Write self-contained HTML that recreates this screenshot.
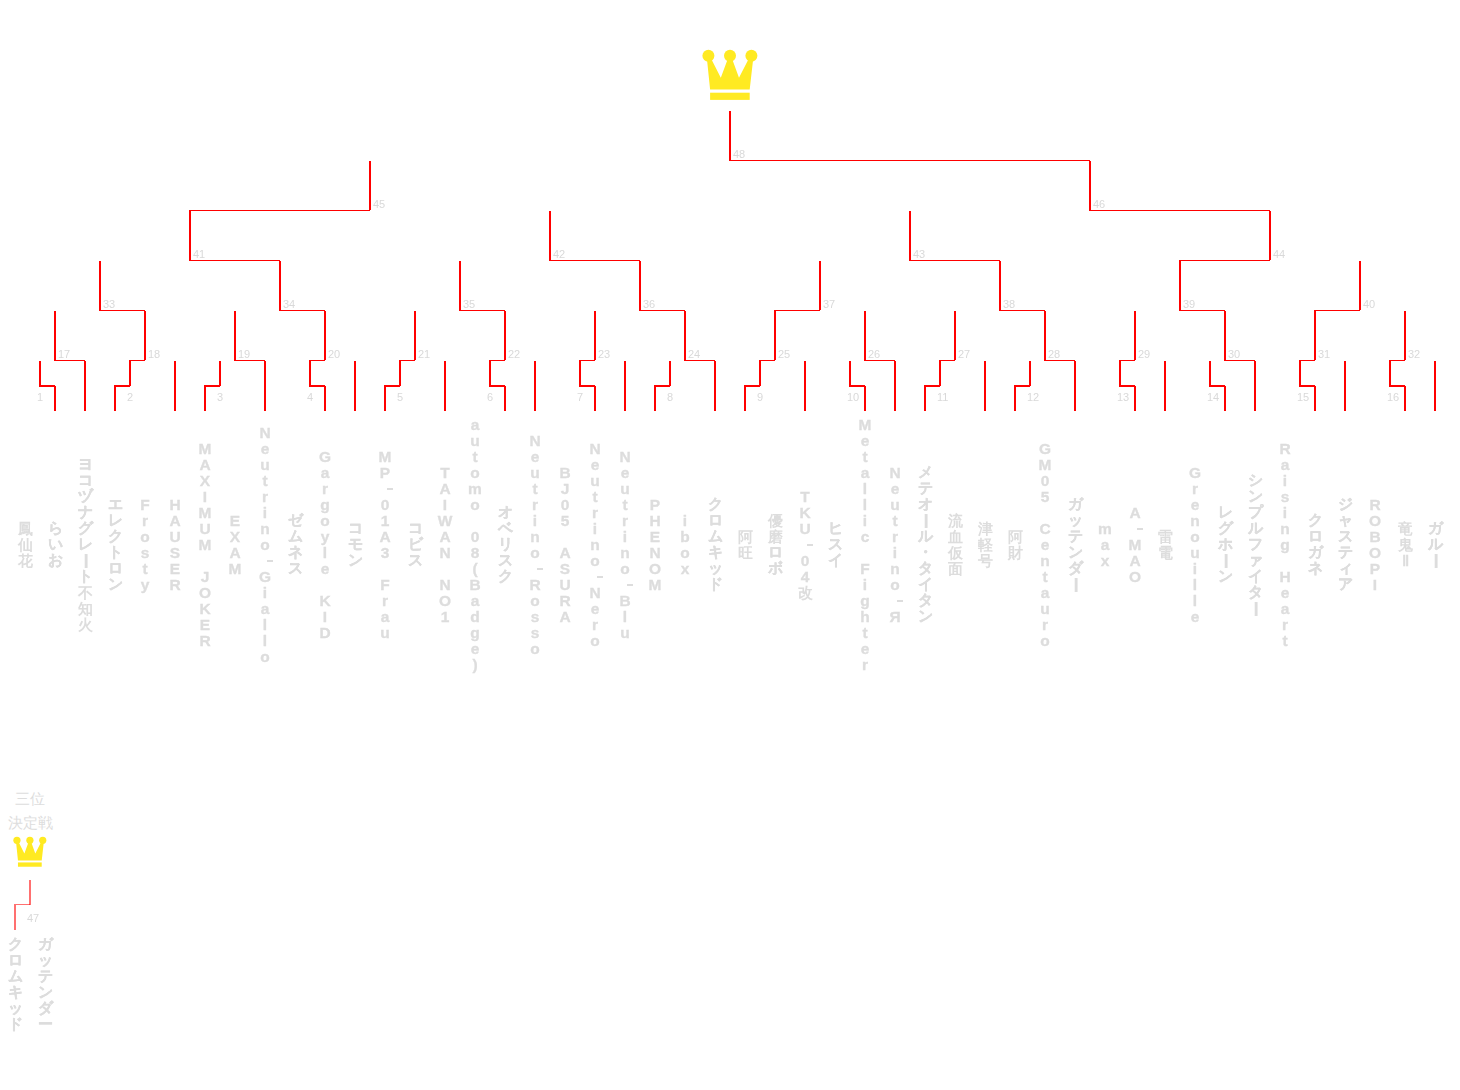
<!DOCTYPE html>
<html><head><meta charset="utf-8"><title>Tournament</title>
<style>
html,body{margin:0;padding:0;background:#fff;}
body{width:1460px;height:1090px;position:relative;overflow:hidden;font-family:"Liberation Sans",sans-serif;}
.lines{position:absolute;left:0;top:0;}
.lb{position:absolute;will-change:transform;font-size:11px;line-height:13px;color:#d9d9d9;white-space:nowrap;}
.nm{position:absolute;width:24px;text-align:center;font-size:15.5px;line-height:16px;font-weight:bold;will-change:transform;color:#dddddd;}
.nm i{display:block;font-style:normal;height:16px;-webkit-text-stroke:0.35px #dddddd;}
.nm i.rot{transform:rotate(90deg);}
.nm i.hy{position:relative;}
.nm i.hy:after{content:'';position:absolute;left:14px;top:6.5px;width:6px;height:2px;background:#dddddd;}
.nm i.j{-webkit-text-stroke:0.3px #dddddd;font-size:15px;}
.nm i.k{-webkit-text-stroke:0;font-size:15px;}
.nm i.j{position:relative;top:-1px;}
.tp i.j{top:0;}
.t3{position:absolute;left:0;width:60px;text-align:center;font-size:15px;line-height:24px;color:#dddddd;}
</style></head><body>
<svg class="lines" width="1460" height="1090" viewBox="0 0 1460 1090">
<g fill="#ffea22">
<path d="M707.1,60.5 L710.1,89.5 L749.7,89.5 L753.0,60.5 L748.1,60.0 L739.0,77.8 L732.7,60.5 L727.2,60.5 L720.8,77.8 L711.8,60.0 Z"/>
<circle cx="708.4" cy="55.8" r="6.0"/>
<circle cx="730.0" cy="55.8" r="6.0"/>
<circle cx="751.4" cy="55.8" r="6.0"/>
<rect x="710.1" y="92.7" width="39.6" height="7.2"/>
<path d="M16.16,843.1 L17.96,860.5 L41.72,860.5 L43.7,843.1 L40.76,842.8 L35.3,853.48 L31.52,843.1 L28.22,843.1 L24.38,853.48 L18.98,842.8 Z"/>
<circle cx="16.94" cy="840.28" r="3.6"/>
<circle cx="29.9" cy="840.28" r="3.6"/>
<circle cx="42.74" cy="840.28" r="3.6"/>
<rect x="17.96" y="862.42" width="23.76" height="4.32"/>
</g>
<g fill="#ff0000" shape-rendering="crispEdges">
<rect x="54" y="386" width="2" height="25"/>
<rect x="39" y="385" width="16" height="2"/>
<rect x="39" y="361" width="2" height="25"/>
<rect x="114" y="386" width="2" height="25"/>
<rect x="114" y="385" width="16" height="2"/>
<rect x="129" y="361" width="2" height="25"/>
<rect x="204" y="386" width="2" height="25"/>
<rect x="204" y="385" width="16" height="2"/>
<rect x="219" y="361" width="2" height="25"/>
<rect x="324" y="386" width="2" height="25"/>
<rect x="309" y="385" width="16" height="2"/>
<rect x="309" y="361" width="2" height="25"/>
<rect x="384" y="386" width="2" height="25"/>
<rect x="384" y="385" width="16" height="2"/>
<rect x="399" y="361" width="2" height="25"/>
<rect x="504" y="386" width="2" height="25"/>
<rect x="489" y="385" width="16" height="2"/>
<rect x="489" y="361" width="2" height="25"/>
<rect x="594" y="386" width="2" height="25"/>
<rect x="579" y="385" width="16" height="2"/>
<rect x="579" y="361" width="2" height="25"/>
<rect x="654" y="386" width="2" height="25"/>
<rect x="654" y="385" width="16" height="2"/>
<rect x="669" y="361" width="2" height="25"/>
<rect x="744" y="386" width="2" height="25"/>
<rect x="744" y="385" width="16" height="2"/>
<rect x="759" y="361" width="2" height="25"/>
<rect x="864" y="386" width="2" height="25"/>
<rect x="849" y="385" width="16" height="2"/>
<rect x="849" y="361" width="2" height="25"/>
<rect x="924" y="386" width="2" height="25"/>
<rect x="924" y="385" width="16" height="2"/>
<rect x="939" y="361" width="2" height="25"/>
<rect x="1014" y="386" width="2" height="25"/>
<rect x="1014" y="385" width="16" height="2"/>
<rect x="1029" y="361" width="2" height="25"/>
<rect x="1134" y="386" width="2" height="25"/>
<rect x="1119" y="385" width="16" height="2"/>
<rect x="1119" y="361" width="2" height="25"/>
<rect x="1224" y="386" width="2" height="25"/>
<rect x="1209" y="385" width="16" height="2"/>
<rect x="1209" y="361" width="2" height="25"/>
<rect x="1314" y="386" width="2" height="25"/>
<rect x="1299" y="385" width="16" height="2"/>
<rect x="1299" y="361" width="2" height="25"/>
<rect x="1404" y="386" width="2" height="25"/>
<rect x="1389" y="385" width="16" height="2"/>
<rect x="1389" y="361" width="2" height="25"/>
<rect x="84" y="361" width="2" height="50"/>
<rect x="174" y="361" width="2" height="50"/>
<rect x="264" y="361" width="2" height="50"/>
<rect x="354" y="361" width="2" height="50"/>
<rect x="444" y="361" width="2" height="50"/>
<rect x="534" y="361" width="2" height="50"/>
<rect x="624" y="361" width="2" height="50"/>
<rect x="714" y="361" width="2" height="50"/>
<rect x="804" y="361" width="2" height="50"/>
<rect x="894" y="361" width="2" height="50"/>
<rect x="984" y="361" width="2" height="50"/>
<rect x="1074" y="361" width="2" height="50"/>
<rect x="1164" y="361" width="2" height="50"/>
<rect x="1254" y="361" width="2" height="50"/>
<rect x="1344" y="361" width="2" height="50"/>
<rect x="1434" y="361" width="2" height="50"/>
<rect x="54" y="360" width="31" height="1"/>
<rect x="54" y="311" width="2" height="49"/>
<rect x="129" y="360" width="16" height="1"/>
<rect x="144" y="311" width="2" height="49"/>
<rect x="234" y="360" width="31" height="1"/>
<rect x="234" y="311" width="2" height="49"/>
<rect x="309" y="360" width="16" height="1"/>
<rect x="324" y="311" width="2" height="49"/>
<rect x="399" y="360" width="16" height="1"/>
<rect x="414" y="311" width="2" height="49"/>
<rect x="489" y="360" width="16" height="1"/>
<rect x="504" y="311" width="2" height="49"/>
<rect x="579" y="360" width="16" height="1"/>
<rect x="594" y="311" width="2" height="49"/>
<rect x="684" y="360" width="31" height="1"/>
<rect x="684" y="311" width="2" height="49"/>
<rect x="759" y="360" width="16" height="1"/>
<rect x="774" y="311" width="2" height="49"/>
<rect x="864" y="360" width="31" height="1"/>
<rect x="864" y="311" width="2" height="49"/>
<rect x="939" y="360" width="16" height="1"/>
<rect x="954" y="311" width="2" height="49"/>
<rect x="1044" y="360" width="31" height="1"/>
<rect x="1044" y="311" width="2" height="49"/>
<rect x="1119" y="360" width="16" height="1"/>
<rect x="1134" y="311" width="2" height="49"/>
<rect x="1224" y="360" width="31" height="1"/>
<rect x="1224" y="311" width="2" height="49"/>
<rect x="1299" y="360" width="16" height="1"/>
<rect x="1314" y="311" width="2" height="49"/>
<rect x="1389" y="360" width="16" height="1"/>
<rect x="1404" y="311" width="2" height="49"/>
<rect x="99" y="310" width="46" height="1"/>
<rect x="99" y="261" width="2" height="49"/>
<rect x="279" y="310" width="46" height="1"/>
<rect x="279" y="261" width="2" height="49"/>
<rect x="459" y="310" width="46" height="1"/>
<rect x="459" y="261" width="2" height="49"/>
<rect x="639" y="310" width="46" height="1"/>
<rect x="639" y="261" width="2" height="49"/>
<rect x="774" y="310" width="46" height="1"/>
<rect x="819" y="261" width="2" height="49"/>
<rect x="999" y="310" width="46" height="1"/>
<rect x="999" y="261" width="2" height="49"/>
<rect x="1179" y="310" width="46" height="1"/>
<rect x="1179" y="261" width="2" height="49"/>
<rect x="1314" y="310" width="46" height="1"/>
<rect x="1359" y="261" width="2" height="49"/>
<rect x="189" y="260" width="91" height="1"/>
<rect x="189" y="211" width="2" height="49"/>
<rect x="549" y="260" width="91" height="1"/>
<rect x="549" y="211" width="2" height="49"/>
<rect x="909" y="260" width="91" height="1"/>
<rect x="909" y="211" width="2" height="49"/>
<rect x="1179" y="260" width="91" height="1"/>
<rect x="1269" y="211" width="2" height="49"/>
<rect x="189" y="210" width="181" height="1"/>
<rect x="369" y="161" width="2" height="49"/>
<rect x="1089" y="210" width="181" height="1"/>
<rect x="1089" y="161" width="2" height="49"/>
<rect x="729" y="160" width="361" height="1"/>
<rect x="729" y="111" width="2" height="49"/>
</g>
<g fill="#ff0000" fill-opacity="0.56" shape-rendering="crispEdges">
<rect x="14" y="905" width="2" height="25"/>
<rect x="14" y="904" width="16" height="1"/>
<rect x="29" y="880" width="2" height="25"/>
</g>
</svg>
<div class="lb" style="left:37px;top:391px">1</div>
<div class="lb" style="left:127px;top:391px">2</div>
<div class="lb" style="left:217px;top:391px">3</div>
<div class="lb" style="left:307px;top:391px">4</div>
<div class="lb" style="left:397px;top:391px">5</div>
<div class="lb" style="left:487px;top:391px">6</div>
<div class="lb" style="left:577px;top:391px">7</div>
<div class="lb" style="left:667px;top:391px">8</div>
<div class="lb" style="left:757px;top:391px">9</div>
<div class="lb" style="left:847px;top:391px">10</div>
<div class="lb" style="left:937px;top:391px">11</div>
<div class="lb" style="left:1027px;top:391px">12</div>
<div class="lb" style="left:1117px;top:391px">13</div>
<div class="lb" style="left:1207px;top:391px">14</div>
<div class="lb" style="left:1297px;top:391px">15</div>
<div class="lb" style="left:1387px;top:391px">16</div>
<div class="lb" style="left:58px;top:348px">17</div>
<div class="lb" style="left:148px;top:348px">18</div>
<div class="lb" style="left:238px;top:348px">19</div>
<div class="lb" style="left:328px;top:348px">20</div>
<div class="lb" style="left:418px;top:348px">21</div>
<div class="lb" style="left:508px;top:348px">22</div>
<div class="lb" style="left:598px;top:348px">23</div>
<div class="lb" style="left:688px;top:348px">24</div>
<div class="lb" style="left:778px;top:348px">25</div>
<div class="lb" style="left:868px;top:348px">26</div>
<div class="lb" style="left:958px;top:348px">27</div>
<div class="lb" style="left:1048px;top:348px">28</div>
<div class="lb" style="left:1138px;top:348px">29</div>
<div class="lb" style="left:1228px;top:348px">30</div>
<div class="lb" style="left:1318px;top:348px">31</div>
<div class="lb" style="left:1408px;top:348px">32</div>
<div class="lb" style="left:103px;top:298px">33</div>
<div class="lb" style="left:283px;top:298px">34</div>
<div class="lb" style="left:463px;top:298px">35</div>
<div class="lb" style="left:643px;top:298px">36</div>
<div class="lb" style="left:823px;top:298px">37</div>
<div class="lb" style="left:1003px;top:298px">38</div>
<div class="lb" style="left:1183px;top:298px">39</div>
<div class="lb" style="left:1363px;top:298px">40</div>
<div class="lb" style="left:193px;top:248px">41</div>
<div class="lb" style="left:553px;top:248px">42</div>
<div class="lb" style="left:913px;top:248px">43</div>
<div class="lb" style="left:1273px;top:248px">44</div>
<div class="lb" style="left:373px;top:198px">45</div>
<div class="lb" style="left:1093px;top:198px">46</div>
<div class="lb" style="left:733px;top:148px">48</div>
<div class="lb" style="left:27px;top:912px">47</div>
<div class="t3" style="top:787px">三位<br>決定戦</div>
<div class="nm" style="left:13px;top:520.5px"><i class="k">鳳</i><i class="k">仙</i><i class="k">花</i></div>
<div class="nm" style="left:43px;top:520.5px"><i class="j">ら</i><i class="j">い</i><i class="j">お</i></div>
<div class="nm" style="left:73px;top:456.5px"><i class="j">ヨ</i><i class="j">コ</i><i class="j">ヅ</i><i class="j">ナ</i><i class="j">グ</i><i class="j">レ</i><i class="rot">ー</i><i class="j">ト</i><i class="k">不</i><i class="k">知</i><i class="k">火</i></div>
<div class="nm" style="left:103px;top:496.5px"><i class="j">エ</i><i class="j">レ</i><i class="j">ク</i><i class="j">ト</i><i class="j">ロ</i><i class="j">ン</i></div>
<div class="nm" style="left:133px;top:496.5px"><i>F</i><i>r</i><i>o</i><i>s</i><i>t</i><i>y</i></div>
<div class="nm" style="left:163px;top:496.5px"><i>H</i><i>A</i><i>U</i><i>S</i><i>E</i><i>R</i></div>
<div class="nm" style="left:193px;top:440.5px"><i>M</i><i>A</i><i>X</i><i>I</i><i>M</i><i>U</i><i>M</i><i>&nbsp;</i><i>J</i><i>O</i><i>K</i><i>E</i><i>R</i></div>
<div class="nm" style="left:223px;top:512.5px"><i>E</i><i>X</i><i>A</i><i>M</i></div>
<div class="nm" style="left:253px;top:424.5px"><i>N</i><i>e</i><i>u</i><i>t</i><i>r</i><i>i</i><i>n</i><i>o</i><i class="hy"></i><i>G</i><i>i</i><i>a</i><i>l</i><i>l</i><i>o</i></div>
<div class="nm" style="left:283px;top:512.5px"><i class="j">ゼ</i><i class="j">ム</i><i class="j">ネ</i><i class="j">ス</i></div>
<div class="nm" style="left:313px;top:448.5px"><i>G</i><i>a</i><i>r</i><i>g</i><i>o</i><i>y</i><i>l</i><i>e</i><i>&nbsp;</i><i>K</i><i>I</i><i>D</i></div>
<div class="nm" style="left:343px;top:520.5px"><i class="j">コ</i><i class="j">モ</i><i class="j">ン</i></div>
<div class="nm" style="left:373px;top:448.5px"><i>M</i><i>P</i><i class="hy"></i><i>0</i><i>1</i><i>A</i><i>3</i><i>&nbsp;</i><i>F</i><i>r</i><i>a</i><i>u</i></div>
<div class="nm" style="left:403px;top:520.5px"><i class="j">コ</i><i class="j">ビ</i><i class="j">ス</i></div>
<div class="nm" style="left:433px;top:464.5px"><i>T</i><i>A</i><i>I</i><i>W</i><i>A</i><i>N</i><i>&nbsp;</i><i>N</i><i>O</i><i>1</i></div>
<div class="nm" style="left:463px;top:416.5px"><i>a</i><i>u</i><i>t</i><i>o</i><i>m</i><i>o</i><i>&nbsp;</i><i>0</i><i>8</i><i>(</i><i>B</i><i>a</i><i>d</i><i>g</i><i>e</i><i>)</i></div>
<div class="nm" style="left:493px;top:504.5px"><i class="j">オ</i><i class="j">ベ</i><i class="j">リ</i><i class="j">ス</i><i class="j">ク</i></div>
<div class="nm" style="left:523px;top:432.5px"><i>N</i><i>e</i><i>u</i><i>t</i><i>r</i><i>i</i><i>n</i><i>o</i><i class="hy"></i><i>R</i><i>o</i><i>s</i><i>s</i><i>o</i></div>
<div class="nm" style="left:553px;top:464.5px"><i>B</i><i>J</i><i>0</i><i>5</i><i>&nbsp;</i><i>A</i><i>S</i><i>U</i><i>R</i><i>A</i></div>
<div class="nm" style="left:583px;top:440.5px"><i>N</i><i>e</i><i>u</i><i>t</i><i>r</i><i>i</i><i>n</i><i>o</i><i class="hy"></i><i>N</i><i>e</i><i>r</i><i>o</i></div>
<div class="nm" style="left:613px;top:448.5px"><i>N</i><i>e</i><i>u</i><i>t</i><i>r</i><i>i</i><i>n</i><i>o</i><i class="hy"></i><i>B</i><i>l</i><i>u</i></div>
<div class="nm" style="left:643px;top:496.5px"><i>P</i><i>H</i><i>E</i><i>N</i><i>O</i><i>M</i></div>
<div class="nm" style="left:673px;top:512.5px"><i>i</i><i>b</i><i>o</i><i>x</i></div>
<div class="nm" style="left:703px;top:496.5px"><i class="j">ク</i><i class="j">ロ</i><i class="j">ム</i><i class="j">キ</i><i class="j">ッ</i><i class="j">ド</i></div>
<div class="nm" style="left:733px;top:528.5px"><i class="k">阿</i><i class="k">旺</i></div>
<div class="nm" style="left:763px;top:512.5px"><i class="k">優</i><i class="k">磨</i><i class="j">ロ</i><i class="j">ボ</i></div>
<div class="nm" style="left:793px;top:488.5px"><i>T</i><i>K</i><i>U</i><i class="hy"></i><i>0</i><i>4</i><i class="k">改</i></div>
<div class="nm" style="left:823px;top:520.5px"><i class="j">ヒ</i><i class="j">ス</i><i class="j">イ</i></div>
<div class="nm" style="left:853px;top:416.5px"><i>M</i><i>e</i><i>t</i><i>a</i><i>l</i><i>l</i><i>i</i><i>c</i><i>&nbsp;</i><i>F</i><i>i</i><i>g</i><i>h</i><i>t</i><i>e</i><i>r</i></div>
<div class="nm" style="left:883px;top:464.5px"><i>N</i><i>e</i><i>u</i><i>t</i><i>r</i><i>i</i><i>n</i><i>o</i><i class="hy"></i><i>Я</i></div>
<div class="nm" style="left:913px;top:464.5px"><i class="j">メ</i><i class="j">テ</i><i class="j">オ</i><i class="rot">ー</i><i class="j">ル</i><i class="j">・</i><i class="j">タ</i><i class="j">イ</i><i class="j">タ</i><i class="j">ン</i></div>
<div class="nm" style="left:943px;top:512.5px"><i class="k">流</i><i class="k">血</i><i class="k">仮</i><i class="k">面</i></div>
<div class="nm" style="left:973px;top:520.5px"><i class="k">津</i><i class="k">軽</i><i class="k">号</i></div>
<div class="nm" style="left:1003px;top:528.5px"><i class="k">阿</i><i class="k">財</i></div>
<div class="nm" style="left:1033px;top:440.5px"><i>G</i><i>M</i><i>0</i><i>5</i><i>&nbsp;</i><i>C</i><i>e</i><i>n</i><i>t</i><i>a</i><i>u</i><i>r</i><i>o</i></div>
<div class="nm" style="left:1063px;top:496.5px"><i class="j">ガ</i><i class="j">ッ</i><i class="j">テ</i><i class="j">ン</i><i class="j">ダ</i><i class="rot">ー</i></div>
<div class="nm" style="left:1093px;top:520.5px"><i>m</i><i>a</i><i>x</i></div>
<div class="nm" style="left:1123px;top:504.5px"><i>A</i><i class="hy"></i><i>M</i><i>A</i><i>O</i></div>
<div class="nm" style="left:1153px;top:528.5px"><i class="k">雷</i><i class="k">電</i></div>
<div class="nm" style="left:1183px;top:464.5px"><i>G</i><i>r</i><i>e</i><i>n</i><i>o</i><i>u</i><i>i</i><i>l</i><i>l</i><i>e</i></div>
<div class="nm" style="left:1213px;top:504.5px"><i class="j">レ</i><i class="j">グ</i><i class="j">ホ</i><i class="rot">ー</i><i class="j">ン</i></div>
<div class="nm" style="left:1243px;top:472.5px"><i class="j">シ</i><i class="j">ン</i><i class="j">プ</i><i class="j">ル</i><i class="j">フ</i><i class="j">ァ</i><i class="j">イ</i><i class="j">タ</i><i class="rot">ー</i></div>
<div class="nm" style="left:1273px;top:440.5px"><i>R</i><i>a</i><i>i</i><i>s</i><i>i</i><i>n</i><i>g</i><i>&nbsp;</i><i>H</i><i>e</i><i>a</i><i>r</i><i>t</i></div>
<div class="nm" style="left:1303px;top:512.5px"><i class="j">ク</i><i class="j">ロ</i><i class="j">ガ</i><i class="j">ネ</i></div>
<div class="nm" style="left:1333px;top:496.5px"><i class="j">ジ</i><i class="j">ャ</i><i class="j">ス</i><i class="j">テ</i><i class="j">ィ</i><i class="j">ア</i></div>
<div class="nm" style="left:1363px;top:496.5px"><i>R</i><i>O</i><i>B</i><i>O</i><i>P</i><i>I</i></div>
<div class="nm" style="left:1393px;top:520.5px"><i class="k">竜</i><i class="k">鬼</i><i class="k">Ⅱ</i></div>
<div class="nm" style="left:1423px;top:520.5px"><i class="j">ガ</i><i class="j">ル</i><i class="rot">ー</i></div>
<div class="nm tp" style="left:3px;top:936px"><i class="j">ク</i><i class="j">ロ</i><i class="j">ム</i><i class="j">キ</i><i class="j">ッ</i><i class="j">ド</i></div>
<div class="nm tp" style="left:33px;top:936px"><i class="j">ガ</i><i class="j">ッ</i><i class="j">テ</i><i class="j">ン</i><i class="j">ダ</i><i class="j">ー</i></div>
</body></html>
